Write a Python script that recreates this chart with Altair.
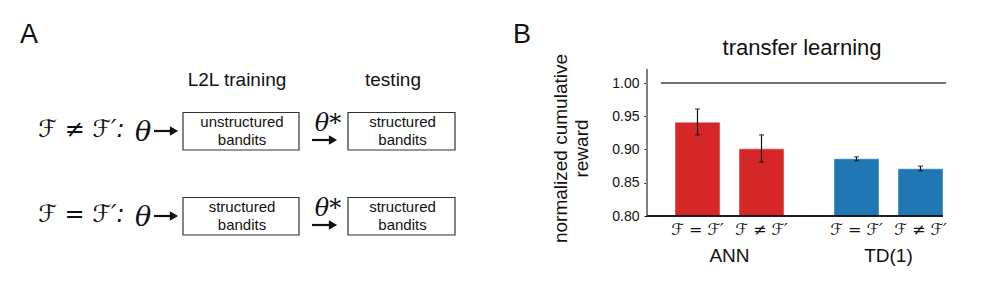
import altair as alt
import pandas as pd

# ---------------- Panel B data ----------------
methods = ["ANN", "ANN", "TD(1)", "TD(1)"]
conditions = ["ℱ = ℱ′", "ℱ ≠ ℱ′", "ℱ = ℱ′", "ℱ ≠ ℱ′"]
rewards = [0.941, 0.901, 0.886, 0.871]
err_low = [0.922, 0.881, 0.883, 0.868]
err_high = [0.961, 0.922, 0.889, 0.875]
method_order = ["ANN", "TD(1)"]
condition_order = ["ℱ = ℱ′", "ℱ ≠ ℱ′"]
method_colors = ["#d62728", "#1f77b4"]
y_ticks = [0.80, 0.85, 0.90, 0.95, 1.00]
baseline_value = 0.80
reference_value = 1.00

# ---------------- Panel A texts ----------------
panel_letters = ["A", "B"]
headers = ["L2L training", "testing"]
row_labels = ["ℱ ≠ ℱ′:", "ℱ = ℱ′:"]
train_tasks = ["unstructured\nbandits", "structured\nbandits"]
test_tasks = ["structured\nbandits", "structured\nbandits"]
theta_labels = ["θ", "θ*"]

# ---------------- layout (diagram units = px) ----------------
FONT = "Liberation Sans"
MATH = "DejaVu Sans"
THETA = "DejaVu Serif"
WA, H = 639, 268
WB = 299
row_tops = [104.5, 189.5]
box_h = 37.5
col_spans = [(175, 291), (340, 447)]
header_x = [229, 385]

sxA = alt.Scale(domain=[0, WA], range=[0, WA])
syA = alt.Scale(domain=[0, H], range=[0, H])

boxes, box_texts, row_texts, thetas, arrows = [], [], [], [], []
for r, top in enumerate(row_tops):
    for c, (x0, x1) in enumerate(col_spans):
        boxes.append({"x": x0, "x2": x1, "y": top, "y2": top + box_h})
        txt = train_tasks[r] if c == 0 else test_tasks[r]
        box_texts.append({"x": (x0 + x1) / 2 + 1, "y": top + 14.5, "t": txt})
    row_texts.append({"x": 30, "y": top + 24, "t": row_labels[r]})
    thetas.append({"x": 135, "y": top + 28, "t": theta_labels[0], "s": 27})
    thetas.append({"x": 320, "y": top + 18, "t": theta_labels[1], "s": 24})
    arrows.append({"x": 146, "x2": 170, "y": top + 18.5})
    arrows.append({"x": 304, "x2": 329, "y": top + 27.5})

letters = pd.DataFrame({"x": [12, 505], "y": [35, 35], "t": panel_letters})
heads = pd.DataFrame({"x": header_x, "y": [78, 78], "t": headers})

XA = lambda f: alt.X(f, type="quantitative", scale=sxA, axis=None)
YA = lambda f: alt.Y(f, type="quantitative", scale=syA, axis=None)

letter_layer = alt.Chart(letters).mark_text(
    font=FONT, fontSize=27, align="left", baseline="alphabetic", color="#111"
).encode(x=XA("x"), y=YA("y"), text="t:N")

head_layer = alt.Chart(heads).mark_text(
    font=FONT, fontSize=19, align="center", baseline="alphabetic", color="#111"
).encode(x=XA("x"), y=YA("y"), text="t:N")

box_layer = alt.Chart(pd.DataFrame(boxes)).mark_rect(
    fill="white", stroke="#333", strokeWidth=1.2
).encode(x=XA("x"), x2="x2", y=YA("y"), y2="y2")

box_text_layer = alt.Chart(pd.DataFrame(box_texts)).mark_text(
    font=FONT, fontSize=15, align="center", baseline="alphabetic",
    lineBreak="\n", lineHeight=17.5, color="#111"
).encode(x=XA("x"), y=YA("y"), text="t:N")

row_text_layer = alt.Chart(pd.DataFrame(row_texts)).mark_text(
    font=MATH, fontSize=24, fontStyle="italic", align="left",
    baseline="alphabetic", color="#111"
).encode(x=XA("x"), y=YA("y"), text="t:N")

theta_layer = alt.Chart(pd.DataFrame(thetas)).mark_text(
    font=THETA, fontStyle="italic", align="center", baseline="alphabetic", color="#111"
).encode(x=XA("x"), y=YA("y"), text="t:N",
         size=alt.Size("s:Q", scale=None, legend=None))

arrow_df = pd.DataFrame(arrows)
arrow_df["xs"] = arrow_df["x2"] - 6
arrow_df["xh"] = arrow_df["x2"] - 4
arrow_shaft = alt.Chart(arrow_df).mark_rule(color="#111", strokeWidth=2.2).encode(
    x=XA("x"), x2="xs", y=YA("y"))
arrow_head = alt.Chart(arrow_df).mark_point(
    shape="triangle-right", filled=True, color="#111", opacity=1, size=90
).encode(x=XA("xh"), y=YA("y"))

panel_a = alt.layer(
    letter_layer, head_layer, box_layer, box_text_layer, row_text_layer,
    theta_layer, arrow_shaft, arrow_head
).properties(width=WA, height=H)

# ---------------- Panel B ----------------
df = pd.DataFrame({"method": methods, "condition": conditions,
                   "reward": rewards, "lo": err_low, "hi": err_high})
groups = pd.DataFrame({"method": method_order})

px_per_unit = 665.0
y_top = reference_value + 75 / px_per_unit
y_bot = baseline_value - 60 / px_per_unit
sy = alt.Scale(domain=[y_bot, y_top], zero=False, nice=False)
sx = alt.Scale(domain=method_order, range=[28, 296], paddingInner=0.3145, paddingOuter=0)
sxo = alt.Scale(domain=condition_order, paddingInner=0.297, paddingOuter=0)

yaxis = alt.Axis(values=y_ticks, format=".2f", grid=False, domain=False,
                 tickColor="#111", tickSize=3, tickWidth=1, labelPadding=5,
                 labelFont=FONT, labelFontSize=14, labelColor="#111",
                 title=["normalized cumulative", "reward"],
                 titleFont=FONT, titleFontSize=19, titleFontWeight="normal",
                 titleColor="#111", titleAngle=270, titleAlign="center",
                 titleBaseline="middle", titleLineHeight=21,
                 titleX=-87, titleY=140)


def Yq(field):
    return alt.Y(field, type="quantitative", scale=sy, axis=yaxis)


def Yd(v):
    return alt.YDatum(v, type="quantitative", scale=sy, axis=yaxis)


X = alt.X("method:N", scale=sx, axis=None)
XO = alt.XOffset("condition:N", scale=sxo, sort=condition_order)

bars = alt.Chart(df).mark_bar(strokeWidth=1, strokeOpacity=0.45, stroke="white").encode(
    x=X, xOffset=XO, y=Yq("reward"), y2=alt.datum(baseline_value),
    color=alt.Color("method:N", scale=alt.Scale(domain=method_order, range=method_colors),
                    legend=None),
)

err = alt.Chart(df).mark_rule(color="#111", strokeWidth=1.2).encode(
    x=X, xOffset=XO, y=Yq("lo"), y2="hi:Q")
cap_lo = alt.Chart(df).mark_tick(color="#111", size=5, thickness=1.2, orient="horizontal").encode(
    x=X, xOffset=XO, y=Yq("lo"))
cap_hi = alt.Chart(df).mark_tick(color="#111", size=5, thickness=1.2, orient="horizontal").encode(
    x=X, xOffset=XO, y=Yq("hi"))

yaxis_line = alt.Chart(groups).mark_rule(color="#808080", strokeWidth=2).encode(
    x=alt.value(0), y=Yd(baseline_value), y2=alt.datum(1.021))
base_line = alt.Chart(groups).mark_rule(color="#111", strokeWidth=1.5).encode(
    x=alt.value(0), x2=alt.value(296), y=Yd(baseline_value))
ref_line = alt.Chart(groups).mark_rule(color="#666", strokeWidth=1.5).encode(
    x=alt.value(14), x2=alt.value(WB), y=Yd(reference_value))

cond_labels = alt.Chart(df).mark_text(
    font=MATH, fontStyle="italic", fontSize=16, baseline="alphabetic", color="#111"
).encode(x=X, xOffset=XO, y=alt.value(227), text="condition:N")
group_labels = alt.Chart(groups).mark_text(
    font=FONT, fontSize=19, baseline="alphabetic", color="#111"
).encode(x=X, y=alt.value(254), text="method:N")
title = alt.Chart(pd.DataFrame({"t": ["transfer learning"]})).mark_text(
    font=FONT, fontSize=22, baseline="alphabetic", color="#111"
).encode(x=alt.value(155), y=alt.value(47), text="t:N")

panel_b = alt.layer(
    bars, err, cap_lo, cap_hi, yaxis_line, base_line, ref_line,
    cond_labels, group_labels, title
).properties(width=WB, height=H)

chart = alt.hconcat(panel_a, panel_b, spacing=0, bounds="flush").properties(
    padding=0
).configure_view(strokeWidth=0)

chart.save("out.html", embed_options={"renderer": "svg", "actions": False})
